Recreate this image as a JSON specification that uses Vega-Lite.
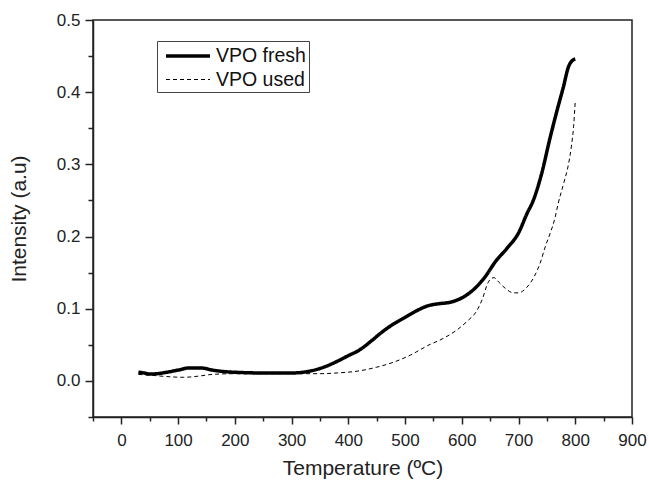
{
  "$schema": "https://vega.github.io/schema/vega-lite/v6.json",
  "width": 539,
  "height": 397,
  "autosize": {"type": "none"},
  "padding": {"left": 93, "top": 20, "right": 17, "bottom": 64},
  "background": "white",
  "config": {
    "view": {"stroke": "#222", "strokeWidth": 1.5},
    "font": "Liberation Sans",
    "axis": {"grid": false, "domainColor": "#222", "domainWidth": 1.5, "tickColor": "#222", "tickWidth": 1.5, "labelColor": "#222", "titleColor": "#222", "labelFont": "Liberation Sans", "titleFont": "Liberation Sans", "labelFontSize": 17, "titleFontSize": 21, "titleFontWeight": "normal"}
  },
  "data": {
    "values": [
      {"series": "VPO fresh", "t": 30, "v": 0.012},
      {"series": "VPO fresh", "t": 40, "v": 0.011},
      {"series": "VPO fresh", "t": 50, "v": 0.0095},
      {"series": "VPO fresh", "t": 60, "v": 0.0098},
      {"series": "VPO fresh", "t": 80, "v": 0.012},
      {"series": "VPO fresh", "t": 100, "v": 0.015},
      {"series": "VPO fresh", "t": 120, "v": 0.018},
      {"series": "VPO fresh", "t": 140, "v": 0.018},
      {"series": "VPO fresh", "t": 160, "v": 0.015},
      {"series": "VPO fresh", "t": 180, "v": 0.013},
      {"series": "VPO fresh", "t": 200, "v": 0.012},
      {"series": "VPO fresh", "t": 250, "v": 0.011},
      {"series": "VPO fresh", "t": 300, "v": 0.011},
      {"series": "VPO fresh", "t": 320, "v": 0.012},
      {"series": "VPO fresh", "t": 340, "v": 0.015},
      {"series": "VPO fresh", "t": 360, "v": 0.02},
      {"series": "VPO fresh", "t": 380, "v": 0.027},
      {"series": "VPO fresh", "t": 400, "v": 0.035},
      {"series": "VPO fresh", "t": 420, "v": 0.043},
      {"series": "VPO fresh", "t": 440, "v": 0.055},
      {"series": "VPO fresh", "t": 460, "v": 0.068},
      {"series": "VPO fresh", "t": 480, "v": 0.079},
      {"series": "VPO fresh", "t": 500, "v": 0.088},
      {"series": "VPO fresh", "t": 520, "v": 0.097},
      {"series": "VPO fresh", "t": 540, "v": 0.104},
      {"series": "VPO fresh", "t": 560, "v": 0.107},
      {"series": "VPO fresh", "t": 580, "v": 0.109},
      {"series": "VPO fresh", "t": 600, "v": 0.115},
      {"series": "VPO fresh", "t": 620, "v": 0.126},
      {"series": "VPO fresh", "t": 640, "v": 0.143},
      {"series": "VPO fresh", "t": 660, "v": 0.166},
      {"series": "VPO fresh", "t": 680, "v": 0.184},
      {"series": "VPO fresh", "t": 700, "v": 0.205},
      {"series": "VPO fresh", "t": 715, "v": 0.232},
      {"series": "VPO fresh", "t": 726, "v": 0.25},
      {"series": "VPO fresh", "t": 740, "v": 0.285},
      {"series": "VPO fresh", "t": 756, "v": 0.338},
      {"series": "VPO fresh", "t": 768, "v": 0.375},
      {"series": "VPO fresh", "t": 779, "v": 0.407},
      {"series": "VPO fresh", "t": 788, "v": 0.435},
      {"series": "VPO fresh", "t": 795, "v": 0.444},
      {"series": "VPO fresh", "t": 800, "v": 0.446},
      {"series": "VPO used", "t": 30, "v": 0.009},
      {"series": "VPO used", "t": 50, "v": 0.008},
      {"series": "VPO used", "t": 80, "v": 0.006},
      {"series": "VPO used", "t": 110, "v": 0.005},
      {"series": "VPO used", "t": 140, "v": 0.007},
      {"series": "VPO used", "t": 160, "v": 0.009},
      {"series": "VPO used", "t": 200, "v": 0.01},
      {"series": "VPO used", "t": 250, "v": 0.01},
      {"series": "VPO used", "t": 300, "v": 0.01},
      {"series": "VPO used", "t": 350, "v": 0.01},
      {"series": "VPO used", "t": 380, "v": 0.011},
      {"series": "VPO used", "t": 420, "v": 0.014},
      {"series": "VPO used", "t": 450, "v": 0.019},
      {"series": "VPO used", "t": 480, "v": 0.026},
      {"series": "VPO used", "t": 510, "v": 0.036},
      {"series": "VPO used", "t": 540, "v": 0.049},
      {"series": "VPO used", "t": 570, "v": 0.06},
      {"series": "VPO used", "t": 592, "v": 0.071},
      {"series": "VPO used", "t": 610, "v": 0.083},
      {"series": "VPO used", "t": 627, "v": 0.098},
      {"series": "VPO used", "t": 637, "v": 0.115},
      {"series": "VPO used", "t": 645, "v": 0.134},
      {"series": "VPO used", "t": 652, "v": 0.142},
      {"series": "VPO used", "t": 657, "v": 0.143},
      {"series": "VPO used", "t": 665, "v": 0.137},
      {"series": "VPO used", "t": 677, "v": 0.128},
      {"series": "VPO used", "t": 691, "v": 0.122},
      {"series": "VPO used", "t": 700, "v": 0.122},
      {"series": "VPO used", "t": 715, "v": 0.13},
      {"series": "VPO used", "t": 728, "v": 0.145},
      {"series": "VPO used", "t": 738, "v": 0.163},
      {"series": "VPO used", "t": 748, "v": 0.188},
      {"series": "VPO used", "t": 756, "v": 0.205},
      {"series": "VPO used", "t": 764, "v": 0.225},
      {"series": "VPO used", "t": 770, "v": 0.246},
      {"series": "VPO used", "t": 780, "v": 0.275},
      {"series": "VPO used", "t": 788, "v": 0.3},
      {"series": "VPO used", "t": 793, "v": 0.324},
      {"series": "VPO used", "t": 797, "v": 0.352},
      {"series": "VPO used", "t": 800, "v": 0.388}
    ]
  },
  "mark": {"type": "line", "color": "black", "interpolate": "monotone", "clip": true},
  "encoding": {
    "x": {
      "field": "t", "type": "quantitative",
      "scale": {"domain": [-50, 900], "nice": false, "zero": false},
      "axis": {
        "title": "Temperature (ºC)",
        "values": [-50, 0, 50, 100, 150, 200, 250, 300, 350, 400, 450, 500, 550, 600, 650, 700, 750, 800, 850, 900],
        "labelExpr": "datum.value % 100 === 0 ? datum.label : ''",
        "tickSize": {"condition": {"test": "datum.value % 100 === 0", "value": 7}, "value": 4},
        "labelPadding": 8,
        "titlePadding": 9,
        "labelFlush": false,
        "labelOverlap": false
      }
    },
    "y": {
      "field": "v", "type": "quantitative",
      "scale": {"domain": [-0.05, 0.5], "nice": false, "zero": false},
      "axis": {
        "title": "Intensity (a.u)",
        "values": [-0.05, 0, 0.05, 0.1, 0.15, 0.2, 0.25, 0.3, 0.35, 0.4, 0.45, 0.5],
        "format": ".1f",
        "labelExpr": "round(datum.value * 100) % 10 === 0 ? datum.label : ''",
        "tickSize": {"condition": {"test": "round(datum.value * 100) % 10 === 0", "value": 8}, "value": 5},
        "labelPadding": 5,
        "titlePadding": 27,
        "labelFlush": false,
        "labelOverlap": false
      }
    },
    "strokeDash": {
      "field": "series", "type": "nominal",
      "scale": {"domain": ["VPO fresh", "VPO used"], "range": [[1, 0], [4, 3]]},
      "legend": {
        "title": null,
        "orient": "none",
        "legendX": 64,
        "legendY": 21,
        "symbolType": "M-0.6,0H3.8",
        "symbolSize": 400,
        "symbolStrokeColor": "black",
        "labelFontSize": 19.5,
        "labelFont": "Liberation Sans",
        "labelColor": "#111",
        "labelOffset": 32,
        "rowPadding": 3,
        "padding": 3,
        "strokeColor": "#444",
        "fillColor": "white"
      }
    },
    "strokeWidth": {
      "field": "series", "type": "nominal",
      "scale": {"domain": ["VPO fresh", "VPO used"], "range": [3.5, 1]},
      "legend": null
    }
  }
}
